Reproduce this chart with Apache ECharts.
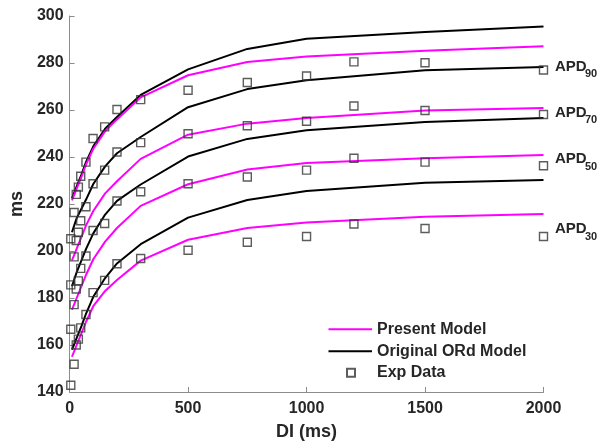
<!DOCTYPE html>
<html>
<head>
<meta charset="utf-8">
<script src="https://cdn.jsdelivr.net/npm/echarts@6/dist/echarts.min.js"></script>
<style>html,body{margin:0;padding:0;background:#fff;}#c{width:600px;height:446px;}</style>
</head>
<body>
<div id="c"></div>
<script>
// Model curves (DI in ms)
const diModel = [10, 20, 30, 50, 70, 100, 150, 200, 300, 500, 750, 1000, 1500, 2000];
const ordAPD90 = [222.5, 225, 227.5, 232.5, 238, 244.5, 252, 257, 266.4, 277.3, 286.0, 290.3, 293.2, 295.5];
const presAPD90 = [221.5, 224, 226.5, 231.5, 237, 243.5, 251, 256, 265.4, 274.8, 280.4, 282.8, 285.2, 287.1];
const ordAPD70 = [208, 211, 214, 218, 222, 228.5, 236, 241.6, 248.5, 261.2, 268.9, 272.7, 276.9, 278.3];
const presAPD70 = [196, 198.5, 201, 206, 211, 217, 224.5, 229.7, 239.2, 249.5, 254.2, 256.6, 259.8, 260.8];
const ordAPD50 = [185, 188, 191, 196, 201, 207.5, 215.5, 221.3, 228.3, 240.2, 247.7, 251.4, 254.9, 256.6];
const presAPD50 = [175, 177.5, 180, 185, 190, 196.5, 204, 209.8, 219.2, 228.4, 234.7, 237.4, 239.5, 240.9];
const ordAPD30 = [158, 160.5, 163, 168, 173.5, 180.5, 188.5, 194.7, 202.9, 214.2, 221.7, 225.5, 229.0, 230.2];
const presAPD30 = [155, 157.5, 160, 165, 170, 176.5, 183, 187.7, 195.9, 204.8, 209.8, 212.1, 214.6, 215.7];

// Experimental data
const diExp = [5, 19, 28, 37, 47, 69, 99, 148, 200, 300, 500, 750, 1000, 1200, 1500, 2000];
const expAPD90 = [205.2, 216.4, 224.1, 227.2, 231.8, 237.8, 247.9, 252.8, 260.2, 264.4, 268.4, 271.7, 274.5, 280.5, 280.1, 277.0];
const expAPD70 = [185.6, 197.5, 204.5, 208.0, 212.9, 218.8, 228.6, 234.4, 242.1, 246.1, 249.9, 253.3, 255.2, 261.7, 259.8, 258.1];
const expAPD50 = [166.7, 177.2, 183.8, 187.3, 192.6, 197.9, 208.7, 211.7, 221.3, 225.2, 228.6, 231.5, 234.4, 239.5, 237.8, 236.3];
const expAPD30 = [142.9, 151.8, 160.0, 162.5, 167.3, 173.0, 182.3, 187.5, 194.6, 196.8, 200.3, 203.7, 206.2, 211.5, 209.6, 206.2];

const xTicks = [0, 500, 1000, 1500, 2000];
const yTicks = [140, 160, 180, 200, 220, 240, 260, 280, 300];
const apdLabels = [['APD', '90'], ['APD', '70'], ['APD', '50'], ['APD', '30']];

const FONT = "'Liberation Sans', Arial, Helvetica, sans-serif";
const TXT = '#262626';
const AX = '#8c8c8c';

const zip = (xs, ys) => xs.map((x, i) => [x, ys[i]]);

function lineSeries(name, color, ys) {
  return {
    name: name, type: 'line', data: zip(diModel, ys),
    symbol: 'none', showSymbol: false, smooth: false,
    lineStyle: { color: color, width: 2 },
    itemStyle: { color: color },
    z: 2
  };
}
function expSeries(ys) {
  return {
    name: 'Exp Data', type: 'scatter', data: zip(diExp, ys),
    symbol: 'rect', symbolSize: 8,
    itemStyle: { color: 'rgba(255,255,255,0)', borderColor: '#333', borderWidth: 1.4 },
    z: 3
  };
}

const series = [
  lineSeries('Original ORd Model', '#000000', ordAPD90),
  lineSeries('Present Model', '#ff00ff', presAPD90),
  lineSeries('Original ORd Model', '#000000', ordAPD70),
  lineSeries('Present Model', '#ff00ff', presAPD70),
  lineSeries('Original ORd Model', '#000000', ordAPD50),
  lineSeries('Present Model', '#ff00ff', presAPD50),
  lineSeries('Original ORd Model', '#000000', ordAPD30),
  lineSeries('Present Model', '#ff00ff', presAPD30),
  expSeries(expAPD90), expSeries(expAPD70), expSeries(expAPD50), expSeries(expAPD30)
];

// annotation label positions (pixels)
const labelPos = [[555, 66.7, 73.5], [555, 112.7, 120], [555, 159.3, 166.7], [555, 229.3, 236.7]];
const graphic = [];
apdLabels.forEach((l, i) => {
  const p = labelPos[i];
  graphic.push({ type: 'text', x: p[0], y: p[1], style: { text: l[0], fontSize: 15, fontWeight: 'bold', fontFamily: FONT, fill: TXT, verticalAlign: 'middle', align: 'left' } });
  graphic.push({ type: 'text', x: p[0] + 30, y: p[2], style: { text: l[1], fontSize: 11, fontWeight: 'bold', fontFamily: FONT, fill: TXT, verticalAlign: 'middle', align: 'left' } });
});

const chart = echarts.init(document.getElementById('c'), null, { renderer: 'canvas' });
chart.setOption({
  animation: false,
  backgroundColor: '#ffffff',
  grid: { left: 61, right: 56.5, top: 16, bottom: 49 },
  legend: [
    {
      data: ['Present Model', 'Original ORd Model'],
      orient: 'vertical', left: 327.5, top: 321.3, padding: 0,
      itemWidth: 43.5, itemHeight: 14, itemGap: 6,
      itemStyle: { opacity: 0 },
      textStyle: { fontSize: 16, fontWeight: 'bold', fontFamily: FONT, color: TXT, lineHeight: 16 }
    },
    {
      data: ['Exp Data'],
      orient: 'vertical', left: 346, top: 364.7, padding: 0,
      itemWidth: 8, itemHeight: 8, itemGap: 6,
      textStyle: { fontSize: 16, fontWeight: 'bold', fontFamily: FONT, color: TXT, lineHeight: 16, padding: [0, 0, 0, 17] }
    }
  ],
  xAxis: {
    type: 'value', min: xTicks[0], max: xTicks[xTicks.length - 1], interval: 500,
    name: 'DI (ms)', nameLocation: 'middle', nameGap: 31,
    nameTextStyle: { fontSize: 18, fontWeight: 'bold', fontFamily: FONT, color: TXT },
    axisLine: { show: true, lineStyle: { color: AX, width: 1 } },
    axisTick: { show: true, inside: true, length: 5, lineStyle: { color: AX } },
    axisLabel: { fontSize: 16, fontWeight: 'bold', fontFamily: FONT, color: TXT, margin: 9, formatter: v => String(v) },
    splitLine: { show: false }
  },
  yAxis: {
    type: 'value', min: yTicks[0], max: yTicks[yTicks.length - 1], interval: 20,
    name: 'ms', nameLocation: 'middle', nameGap: 36,
    nameTextStyle: { fontSize: 18, fontWeight: 'bold', fontFamily: FONT, color: TXT },
    axisLine: { show: true, lineStyle: { color: AX, width: 1 } },
    axisTick: { show: true, inside: true, length: 5, lineStyle: { color: AX } },
    axisLabel: { fontSize: 16, fontWeight: 'bold', fontFamily: FONT, color: TXT, margin: 6, formatter: v => String(v) },
    splitLine: { show: false }
  },
  graphic: graphic,
  series: series
});
</script>
</body>
</html>
